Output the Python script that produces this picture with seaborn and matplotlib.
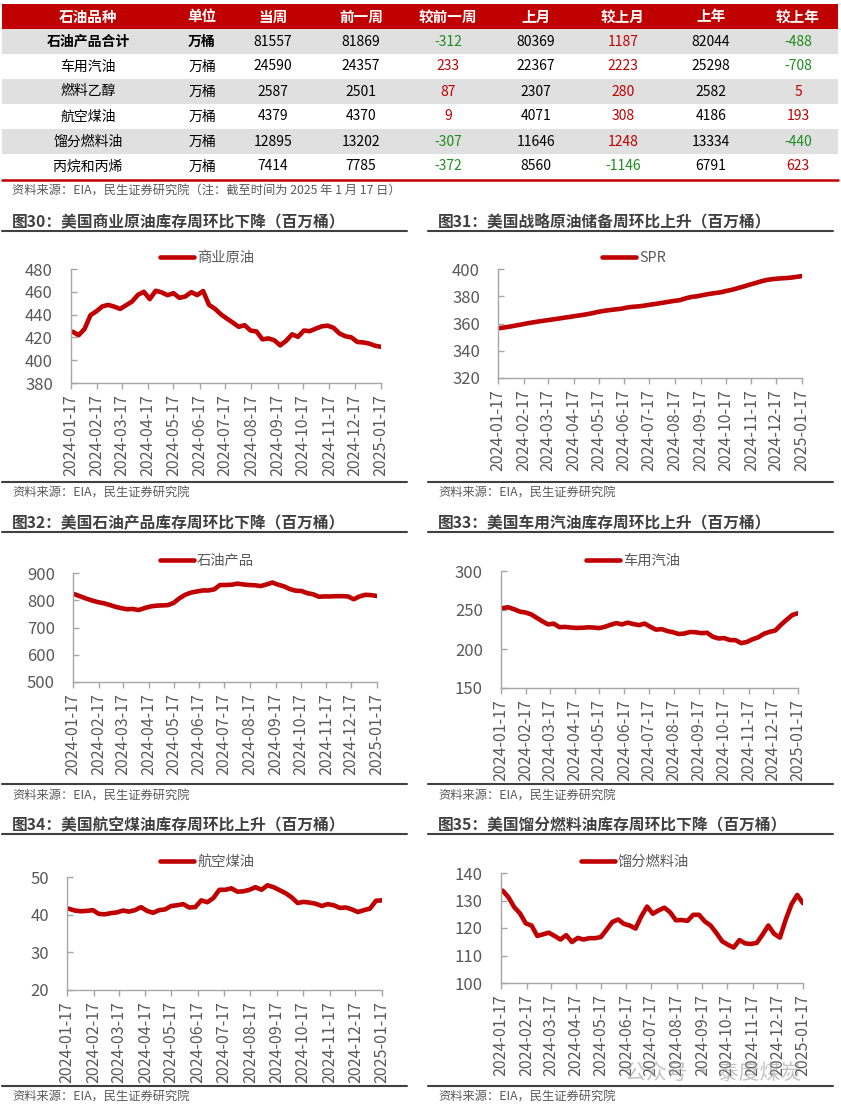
import matplotlib
matplotlib.use('Agg')
import matplotlib.pyplot as plt
import matplotlib.dates as mdates
from matplotlib.lines import Line2D
from matplotlib.patches import Rectangle
import seaborn as sns
import pandas as pd

# ---- table data (万桶) ----
products = ['石油产品合计', '车用汽油', '燃料乙醇', '航空煤油', '馏分燃料油', '丙烷和丙烯']
units = ['万桶'] * 6
this_week = [81557, 24590, 2587, 4379, 12895, 7414]
prev_week = [81869, 24357, 2501, 4370, 13202, 7785]
wow = [-312, 233, 87, 9, -307, -372]
last_month = [80369, 22367, 2307, 4071, 11646, 8560]
mom = [1187, 2223, 280, 308, 1248, -1146]
last_year = [82044, 25298, 2582, 4186, 13334, 6791]
yoy = [-488, -708, 5, 193, -440, 623]
headers = ['石油品种', '单位', '当周', '前一周', '较前一周', '上月', '较上月', '上年', '较上年']

# ---- weekly series (百万桶), 2024-01-19 .. 2025-01-17 ----
dates = pd.date_range('2024-01-19', '2025-01-17', freq='7D')

crude = [425.0, 421.9, 427.4, 439.5, 442.9, 447.2, 448.5, 447.0, 445.0, 448.2, 451.4,
         457.3, 460.0, 453.6, 460.9, 459.5, 457.0, 458.8, 454.7, 455.9, 459.7, 457.1,
         460.7, 448.5, 445.1, 440.2, 436.5, 433.0, 429.3, 430.7, 426.0, 425.2, 418.3,
         419.1, 417.5, 413.0, 417.0, 422.7, 420.5, 426.0, 425.5, 427.7, 429.7, 430.3,
         428.4, 423.4, 421.0, 420.0, 416.0, 415.6, 414.6, 412.7, 411.7]
spr = [356.6, 357.2, 357.9, 358.7, 359.5, 360.3, 361.0, 361.7, 362.3, 362.9, 363.5,
       364.2, 364.8, 365.5, 366.1, 366.8, 367.6, 368.6, 369.3, 369.9, 370.4, 370.9,
       371.8, 372.3, 372.6, 373.2, 373.9, 374.5, 375.2, 375.9, 376.6, 377.1, 378.5,
       379.5, 380.0, 380.9, 381.7, 382.3, 382.9, 383.9, 384.8, 386.0, 387.2, 388.5,
       389.7, 391.0, 392.0, 392.6, 393.0, 393.3, 393.6, 394.2, 394.8]
products_total = [822, 814, 806, 799, 793, 789, 783, 776, 771, 767, 768, 764, 771, 777,
                  780, 781, 782, 790, 807, 820, 828, 832, 836, 836, 840, 856, 856, 857,
                  861, 858, 856, 855, 852, 858, 865, 857, 851, 841, 835, 834, 826, 822,
                  813, 814, 814, 815, 815, 814, 803.7, 814, 820, 818.7, 815.6]
gasoline = [252.5, 253.5, 251.0, 248.0, 246.8, 244.5, 240.0, 235.5, 231.5, 232.5, 228.0,
            228.3, 227.5, 227.0, 227.2, 227.8, 227.5, 226.8, 228.5, 231.0, 233.2, 231.5,
            233.8, 232.0, 230.6, 232.6, 228.5, 224.8, 225.5, 223.0, 221.5, 219.2, 219.8,
            221.8, 221.5, 220.3, 220.8, 215.7, 213.5, 214.0, 211.5, 211.3, 207.5, 209.0,
            212.5, 215.0, 219.5, 222.0, 223.7, 231.0, 237.5, 243.6, 245.9]
jet = [41.6, 41.1, 40.9, 41.0, 41.2, 40.2, 40.1, 40.4, 40.6, 41.1, 40.8, 41.2, 42.0, 41.0,
       40.5, 41.2, 41.4, 42.3, 42.5, 42.8, 41.9, 42.0, 43.8, 43.3, 44.4, 46.6, 46.6, 47.0,
       46.1, 46.2, 46.6, 47.3, 46.6, 47.8, 47.3, 46.5, 45.7, 44.6, 43.1, 43.4, 43.2, 42.9,
       42.3, 42.8, 42.5, 41.8, 41.9, 41.4, 40.7, 41.2, 41.6, 43.7, 43.8]
distillate = [133.6, 131.2, 127.6, 125.3, 121.7, 120.9, 117.1, 117.7, 118.3, 117.1, 115.8,
              117.4, 114.9, 116.4, 115.8, 116.3, 116.3, 116.7, 119.4, 122.2, 123.1, 121.5,
              120.9, 119.8, 124.2, 127.8, 125.2, 126.4, 127.4, 125.7, 122.8, 122.9, 122.6,
              124.8, 124.8, 122.4, 120.9, 118.2, 115.2, 113.9, 112.9, 115.6, 114.4, 114.2,
              114.6, 117.6, 120.9, 117.9, 116.5, 123.0, 128.6, 132.0, 129.0]

RED = '#C00000'
GREEN = '#1E8C1E'
DARK = '#404040'
GRAY_TXT = '#595959'
W, H = 841, 1106

sns.set_theme(style='white')
plt.rcParams['font.family'] = ['Noto Sans CJK SC', 'DejaVu Sans']
plt.rcParams['axes.unicode_minus'] = False

fig = plt.figure(figsize=(W / 100, H / 100), dpi=100)


def fy(y):
    return 1 - y / H


def hline(y, x0, x1, color=DARK, lw=1.5):
    fig.add_artist(Line2D([x0 / W, x1 / W], [fy(y), fy(y)], color=color, lw=lw))


# ---- table ----
ax_t = fig.add_axes([0, fy(179), 1, 175 / H])
ax_t.set_xlim(0, W)
ax_t.set_ylim(7, 0)
ax_t.axis('off')
col_x = [88, 202, 273, 361, 448, 536, 623, 711, 798]
ax_t.add_patch(Rectangle((2, 0), 836, 1, color=RED, lw=0))
for i in range(1, 7, 2):
    ax_t.add_patch(Rectangle((2, i), 836, 1, color='#E0E0E0', lw=0))
for j, h in enumerate(headers):
    ax_t.text(col_x[j], 0.5, h, ha='center', va='center', color='white',
              fontsize=10.5, fontweight='bold')


def diff_color(v):
    return RED if v > 0 else GREEN


for i in range(6):
    row = [products[i], units[i], this_week[i], prev_week[i], wow[i],
           last_month[i], mom[i], last_year[i], yoy[i]]
    for j, v in enumerate(row):
        color = diff_color(v) if j in (4, 6, 8) else 'black'
        weight = 'bold' if (i == 0 and j < 2) else 'normal'
        ax_t.text(col_x[j], i + 1.5, str(v), ha='center', va='center',
                  color=color, fontsize=10, fontweight=weight)
hline(180, 2, 838, color=RED, lw=1.8)
fig.text(12 / W, fy(191), '资料来源：EIA，民生证券研究院（注：截至时间为 2025 年 1 月 17 日）',
         fontsize=8.8, color=GRAY_TXT, va='center')

# ---- line charts ----
panels = [
    dict(vals=crude, label='商业原油', yt=[380, 400, 420, 440, 460, 480],
         title='图30：美国商业原油库存周环比下降（百万桶）',
         box=(71, 381, 269, 383), col=0, ty=222, leg=(207, 258), by=482, sy=493),
    dict(vals=spr, label='SPR', yt=[320, 340, 360, 380, 400],
         title='图31：美国战略原油储备周环比上升（百万桶）',
         box=(498, 802, 269, 378), col=1, ty=222, leg=(634, 258), by=482, sy=493),
    dict(vals=products_total, label='石油产品', yt=[500, 600, 700, 800, 900],
         title='图32：美国石油产品库存周环比下降（百万桶）',
         box=(73, 377, 573, 682), col=0, ty=523, leg=(207, 561), by=784, sy=796),
    dict(vals=gasoline, label='车用汽油', yt=[150, 200, 250, 300],
         title='图33：美国车用汽油库存周环比上升（百万桶）',
         box=(501, 798, 571, 688), col=1, ty=523, leg=(633, 561), by=784, sy=796),
    dict(vals=jet, label='航空煤油', yt=[20, 30, 40, 50],
         title='图34：美国航空煤油库存周环比上升（百万桶）',
         box=(67, 382, 877, 990), col=0, ty=825, leg=(207, 862), by=1086, sy=1097),
    dict(vals=distillate, label='馏分燃料油', yt=[100, 110, 120, 130, 140],
         title='图35：美国馏分燃料油库存周环比下降（百万桶）',
         box=(501, 803, 873, 983), col=1, ty=825, leg=(635, 862), by=1086, sy=1097),
]

for p in panels:
    l, r, t, b = p['box']
    ax = fig.add_axes([l / W, fy(b), (r - l) / W, (b - t) / H])
    df = pd.DataFrame({'Date': dates, 'Value': p['vals']})
    sns.lineplot(data=df, x='Date', y='Value', ax=ax, color=RED, linewidth=3.3,
                 label=p['label'])
    ax.set_xlim(pd.Timestamp('2024-01-17'), pd.Timestamp('2025-01-17'))
    ax.set_ylim(p['yt'][0], p['yt'][-1])
    ax.set_yticks(p['yt'])
    ax.xaxis.set_major_locator(mdates.MonthLocator(bymonthday=17))
    ax.xaxis.set_major_formatter(mdates.DateFormatter('%Y-%m-%d'))
    ax.set_xlabel('')
    ax.set_ylabel('')
    ax.set_facecolor('none')
    for s in ('top', 'right'):
        ax.spines[s].set_visible(False)
    for s in ('left', 'bottom'):
        ax.spines[s].set_color('#A6A6A6')
        ax.spines[s].set_linewidth(1.0)
    ax.tick_params(axis='y', direction='in', length=4, width=1, color='#A6A6A6',
                   pad=13, labelsize=12, labelcolor=GRAY_TXT, left=True)
    ax.tick_params(axis='x', direction='out', length=4, width=1, color='#A6A6A6',
                   pad=4, labelsize=11.5, labelcolor=GRAY_TXT, rotation=90, bottom=True)
    ax.legend(loc='center', bbox_to_anchor=(p['leg'][0] / W, fy(p['leg'][1])),
              bbox_transform=fig.transFigure, frameon=False, fontsize=10.3,
              labelcolor=GRAY_TXT, handlelength=2.4, handletextpad=0.2)

    x0 = 12 if p['col'] == 0 else 438
    fig.text(x0 / W, fy(p['ty']), p['title'], fontsize=11.3, fontweight='bold',
             color=DARK, va='center')
    lx0, lx1 = (2, 407) if p['col'] == 0 else (428, 833)
    hline(p['ty'] + 9, lx0, lx1)
    hline(p['by'], lx0, lx1)
    fig.text(x0 / W, fy(p['sy']), '资料来源：EIA，民生证券研究院', fontsize=8.8,
             color=GRAY_TXT, va='center')

# watermark
fig.text(625 / W, fy(1073), '公众号 · 泰度煤炭', fontsize=15, color='#9a9a9a',
         alpha=0.6, va='center')

fig.savefig('out.png', dpi=100)
